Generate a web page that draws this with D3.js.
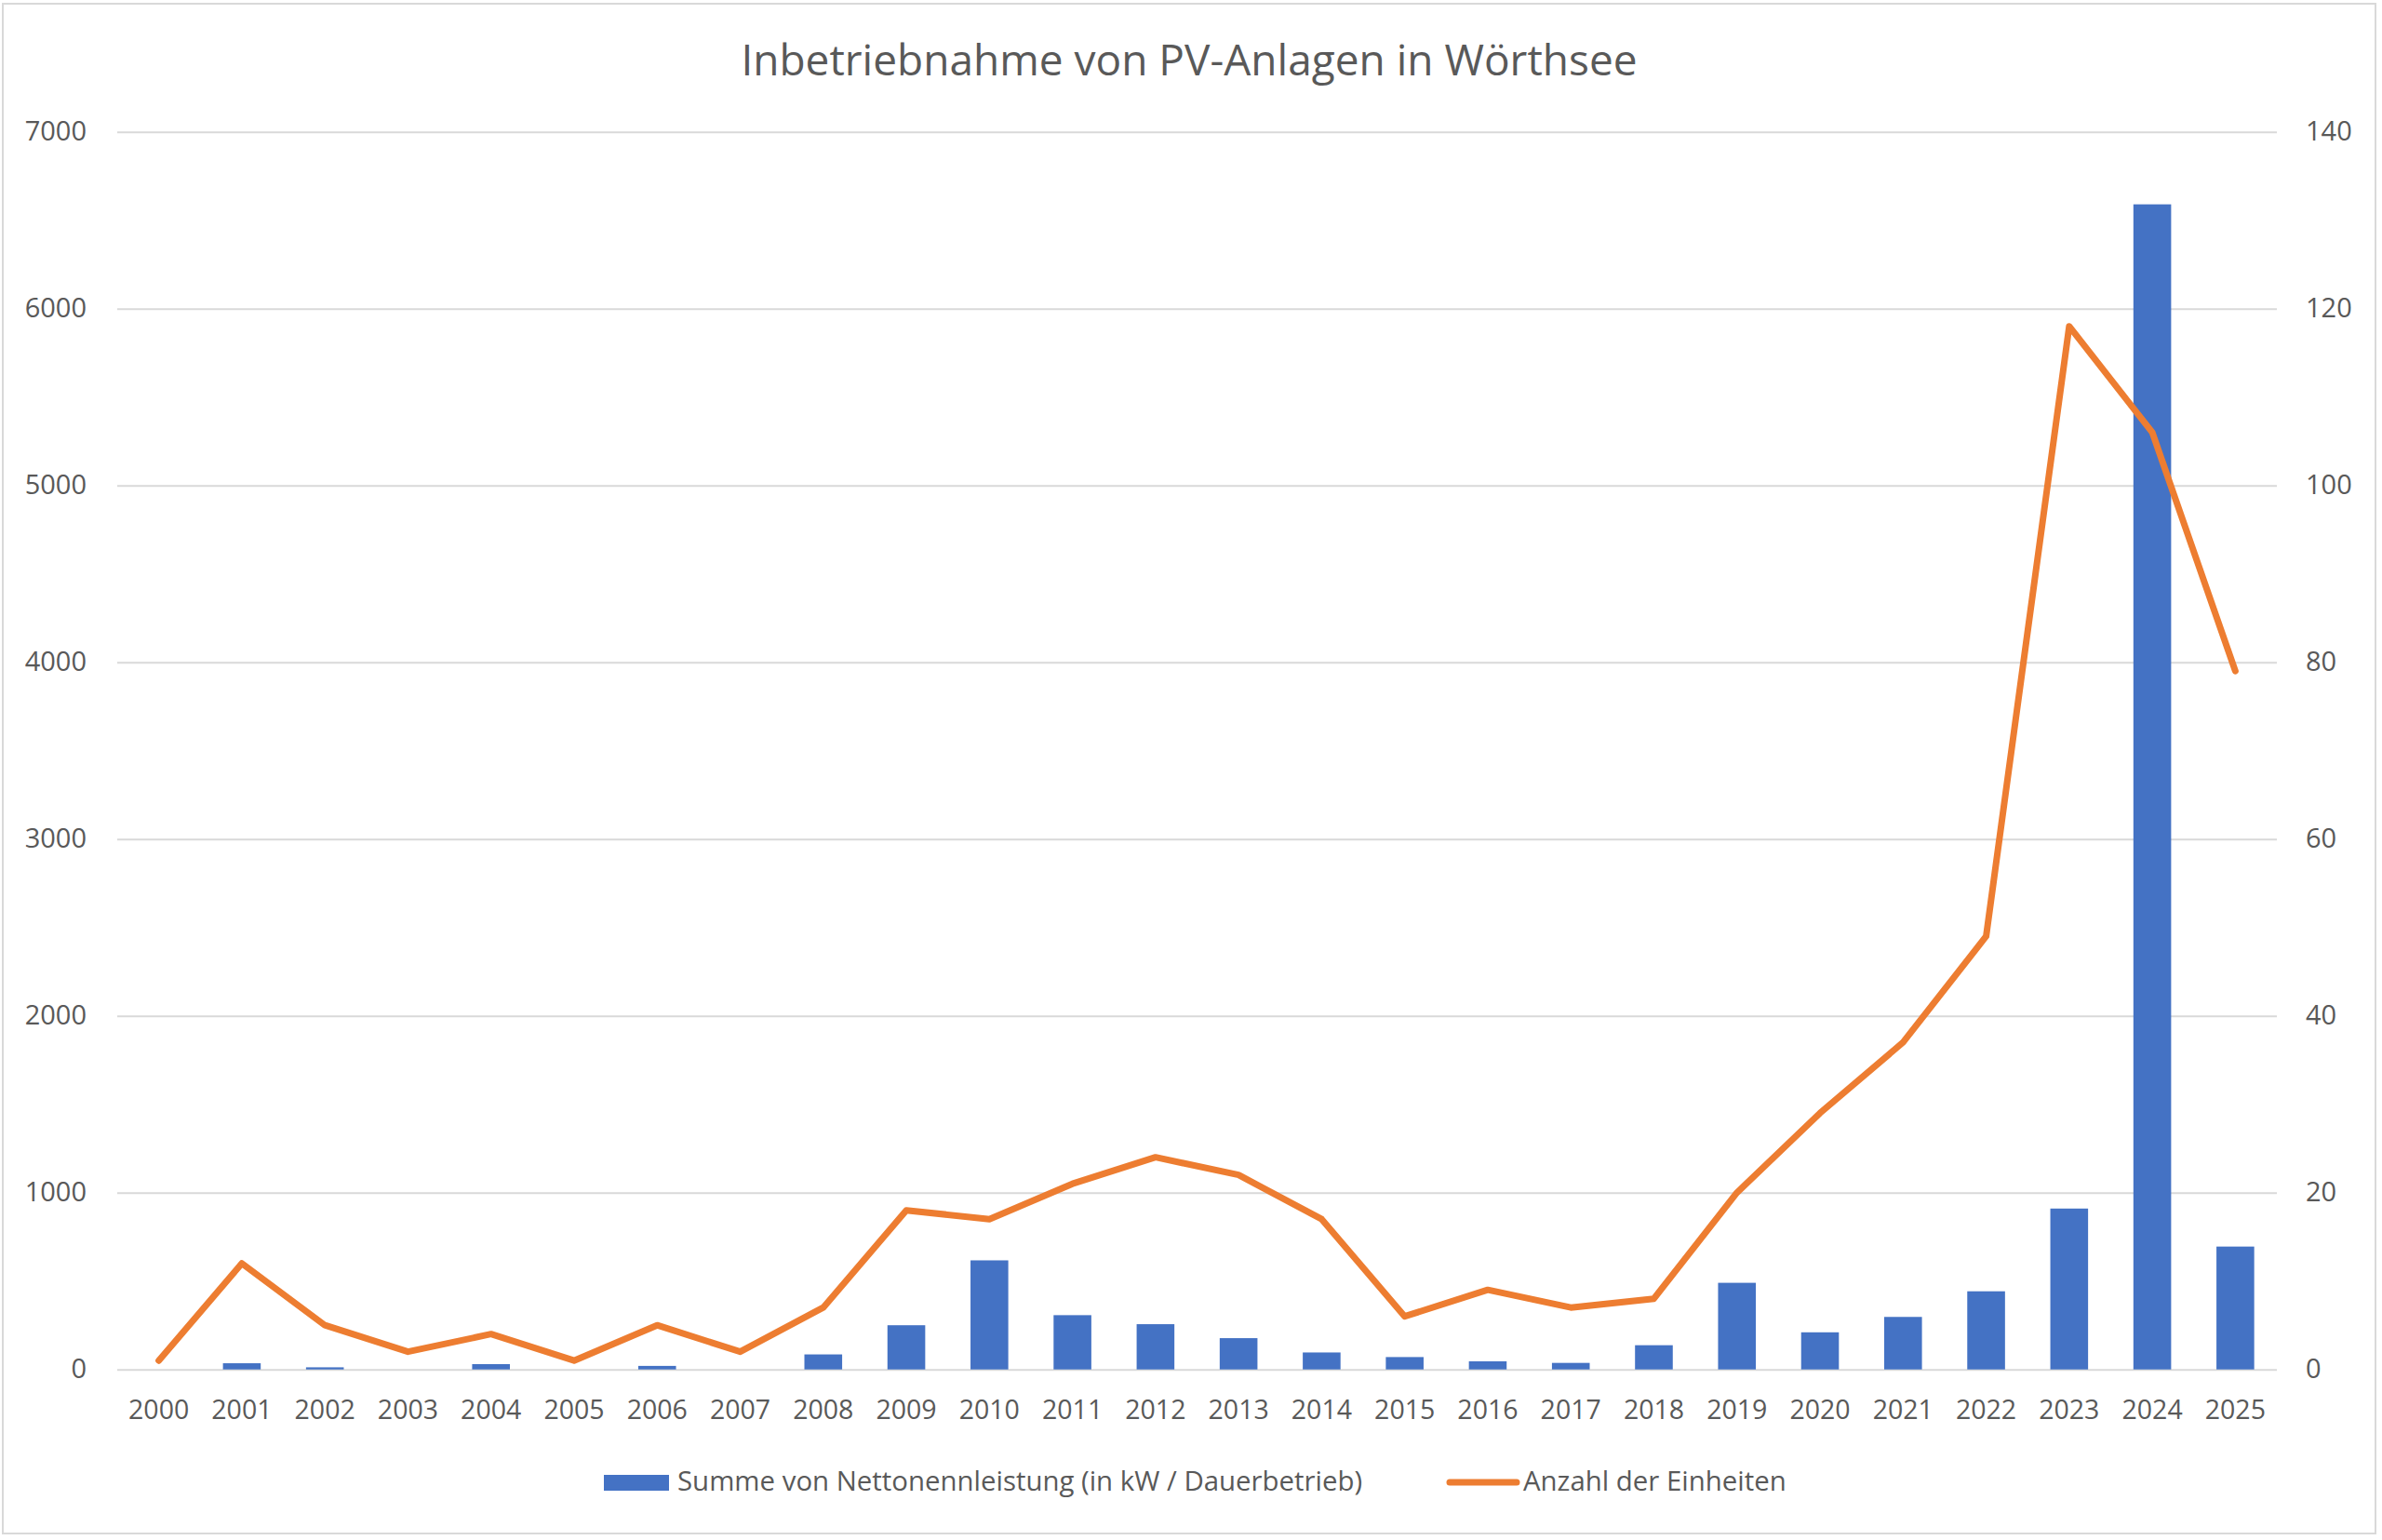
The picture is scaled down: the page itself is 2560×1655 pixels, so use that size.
<!DOCTYPE html>
<html>
<head>
<meta charset="utf-8">
<script src="https://cdn.jsdelivr.net/npm/d3@7"></script>
<style>
  body { margin: 0; background: #fff; }
  text { font-family: "Open Sans", sans-serif; fill: #595959; }
</style>
</head>
<body>
<svg id="chart"></svg>
<script>
// data
var years = ["2000","2001","2002","2003","2004","2005","2006","2007","2008","2009",
             "2010","2011","2012","2013","2014","2015","2016","2017","2018","2019",
             "2020","2021","2022","2023","2024","2025"];
// Summe von Nettonennleistung (kW)
var leistung = [0, 35, 12, 0, 30, 0, 20, 0, 85, 250,
                617, 307, 256, 177, 96, 70, 46, 37, 137, 490,
                210, 297, 442, 910, 6590, 695];
// Anzahl der Einheiten
var anzahl = [1, 12, 5, 2, 4, 1, 5, 2, 7, 18,
              17, 21, 24, 22, 17, 6, 9, 7, 8, 20,
              29, 37, 49, 118, 106, 79];
var leftTicks  = [0, 1000, 2000, 3000, 4000, 5000, 6000, 7000];
var rightTicks = [0, 20, 40, 60, 80, 100, 120, 140];

var W = 2560, H = 1655;
var plot = {left: 126, right: 2447, top: 141.7, bottom: 1471.7};
var blue = "#4472C4", orange = "#ED7D31", grid = "#d9d9d9";

var svg = d3.select("#chart").attr("width", W).attr("height", H);

// outer frame
svg.append("rect").attr("x", 3).attr("y", 4).attr("width", 2550).attr("height", 1644)
   .attr("fill", "#fff").attr("stroke", grid).attr("stroke-width", 2);

var x = d3.scaleBand().domain(years).range([plot.left, plot.right]).padding(0);
var yL = d3.scaleLinear().domain([0, 7000]).range([plot.bottom, plot.top]);
var yR = d3.scaleLinear().domain([0, 140]).range([plot.bottom, plot.top]);

// gridlines
svg.append("g")
   .attr("transform", "translate(" + plot.left + ",0)")
   .call(d3.axisLeft(yL).tickValues(leftTicks).tickSize(-(plot.right - plot.left)).tickFormat(""))
   .call(function(g) { g.select(".domain").remove(); })
   .selectAll("line").attr("stroke", grid).attr("stroke-width", 2);

// left axis labels
svg.append("g")
   .attr("transform", "translate(93,0)")
   .call(d3.axisLeft(yL).tickValues(leftTicks).tickSize(0).tickPadding(0).tickFormat(d3.format("d")))
   .call(function(g) { g.select(".domain").remove(); })
   .selectAll("text").attr("font-size", 29).attr("fill", "#595959")
   .style("font-family", "'Open Sans', sans-serif");

// right axis labels
svg.append("g")
   .attr("transform", "translate(2478,0)")
   .call(d3.axisRight(yR).tickValues(rightTicks).tickSize(0).tickPadding(0))
   .call(function(g) { g.select(".domain").remove(); })
   .selectAll("text").attr("font-size", 29).attr("fill", "#595959")
   .style("font-family", "'Open Sans', sans-serif");

// x axis labels
svg.append("g")
   .attr("transform", "translate(0," + plot.bottom + ")")
   .call(d3.axisBottom(x).tickSize(0).tickPadding(33))
   .call(function(g) { g.select(".domain").remove(); })
   .selectAll("text").attr("font-size", 28.5).attr("fill", "#595959")
   .style("font-family", "'Open Sans', sans-serif");

// bars (Excel gap width 120%)
var barW = x.bandwidth() / 2.2;
svg.append("g").selectAll("rect")
   .data(years)
   .enter().append("rect")
   .attr("x", function(d) { return x(d) + (x.bandwidth() - barW) / 2; })
   .attr("y", function(d, i) { return yL(leistung[i]); })
   .attr("width", barW)
   .attr("height", function(d, i) { return plot.bottom - yL(leistung[i]); })
   .attr("fill", blue);

// line
var line = d3.line()
   .x(function(d, i) { return x(years[i]) + x.bandwidth() / 2; })
   .y(function(d) { return yR(d); });
svg.append("path").datum(anzahl)
   .attr("d", line)
   .attr("fill", "none").attr("stroke", orange).attr("stroke-width", 7)
   .attr("stroke-linejoin", "round").attr("stroke-linecap", "round");

// title
svg.append("text").attr("x", 1278).attr("y", 81)
   .attr("text-anchor", "middle").attr("font-size", 46)
   .text("Inbetriebnahme von PV-Anlagen in Wörthsee");

// legend
var legend = svg.append("g");
legend.append("rect").attr("x", 649).attr("y", 1585).attr("width", 70).attr("height", 17).attr("fill", blue);
legend.append("text").attr("x", 728).attr("y", 1602).attr("font-size", 29.4)
   .text("Summe von Nettonennleistung (in kW / Dauerbetrieb)");
legend.append("line").attr("x1", 1558).attr("x2", 1630).attr("y1", 1593).attr("y2", 1593)
   .attr("stroke", orange).attr("stroke-width", 7).attr("stroke-linecap", "round");
legend.append("text").attr("x", 1637).attr("y", 1602).attr("font-size", 29.4)
   .text("Anzahl der Einheiten");
</script>
</body>
</html>
